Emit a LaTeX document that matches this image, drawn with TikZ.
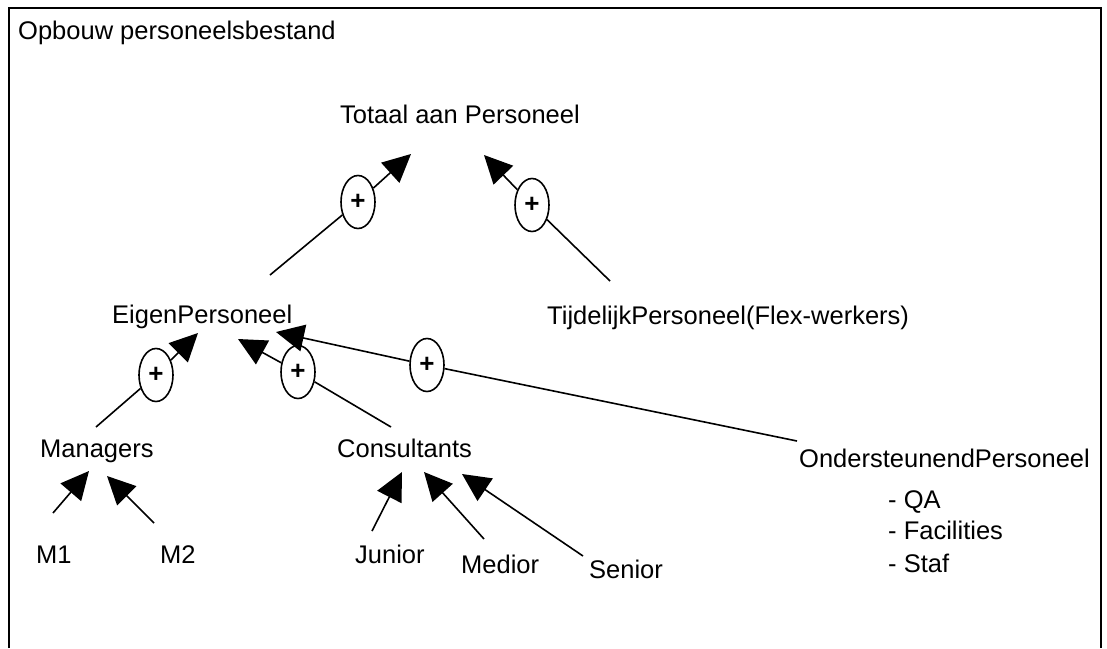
\documentclass[tikz,border=0pt]{standalone}
\usepackage{fontspec}
\setmainfont{Liberation Sans}
\usetikzlibrary{arrows.meta,shapes.geometric}
\begin{document}
\begin{tikzpicture}[x=1pt,y=-1pt,
  lbl/.style={inner sep=0pt,anchor=base west,font=\fontsize{25.5}{30}\selectfont},
  conn/.style={line width=1.6pt},
  arr/.style={line width=1.6pt,-{Triangle[length=28pt,width=27pt]}},
  plus/.style={draw,line width=1.6pt,fill=white,ellipse,minimum width=34pt,minimum height=53pt,inner sep=0pt,font=\fontsize{26}{30}\selectfont\bfseries},
  frame/.style={line width=2pt,line join=miter}]
\useasboundingbox (0,0) rectangle (1107,648);
\draw[frame] (9,648) -- (9,8) -- (1101,8) -- (1101,648);

% text nodes
\node[lbl] (title) at (18,39) {Opbouw personeelsbestand};
\node[lbl] (tot) at (340,123) {Totaal aan Personeel};
\node[lbl] (eig) at (112,323) {EigenPersoneel};
\node[lbl] (tij) at (547,324) {TijdelijkPersoneel(Flex-werkers)};
\node[lbl] (man) at (40,457) {Managers};
\node[lbl] (con) at (337,457) {Consultants};
\node[lbl] (ond) at (799,467) {OndersteunendPersoneel};
\node[lbl] (qa) at (888,508) {- QA};
\node[lbl] (fac) at (888,539) {- Facilities};
\node[lbl] (staf) at (888,572) {- Staf};
\node[lbl] (m1) at (36,563) {M1};
\node[lbl] (m2) at (160,563) {M2};
\node[lbl] (jun) at (355,563) {Junior};
\node[lbl] (med) at (461,573) {Medior};
\node[lbl] (sen) at (589,578) {Senior};

% connector ends
\coordinate (eS) at (270,275);  \coordinate (tT1) at (411,154);
\coordinate (tS) at (610,281);  \coordinate (tT2) at (484,155);
\coordinate (mS) at (96,427);   \coordinate (eT1) at (198,333);
\coordinate (cS) at (391,427);  \coordinate (eT2) at (238,339);
\coordinate (oS) at (797,441);  \coordinate (eT3) at (276,332);
\coordinate (m1S) at (53,513);  \coordinate (mT1) at (89,471);
\coordinate (m2S) at (154,523); \coordinate (mT2) at (107,476);
\coordinate (jS) at (372,531);  \coordinate (cT1) at (402,472);
\coordinate (mdS) at (484,539); \coordinate (cT2) at (424,472);
\coordinate (sS) at (583,556);  \coordinate (cT3) at (462,474);

% plus ellipses
\node[plus] (p1) at (358,202) {+};
\node[plus] (p2) at (532,205) {+};
\node[plus] (p3) at (156,375) {+};
\node[plus] (p4) at (298,372) {+};
\node[plus] (p5) at (427,365) {+};

\draw[conn] (eS) -- (p1); \draw[arr] (p1) -- (tT1);
\draw[conn] (tS) -- (p2); \draw[arr] (p2) -- (tT2);
\draw[conn] (mS) -- (p3); \draw[arr] (p3) -- (eT1);
\draw[conn] (cS) -- (p4); \draw[arr] (p4) -- (eT2);
\draw[conn] (oS) -- (p5); \draw[arr] (p5) -- (eT3);

\draw[arr] (m1S) -- (mT1);
\draw[arr] (m2S) -- (mT2);
\draw[arr] (jS) -- (cT1);
\draw[arr] (mdS) -- (cT2);
\draw[arr] (sS) -- (cT3);
\end{tikzpicture}
\end{document}
